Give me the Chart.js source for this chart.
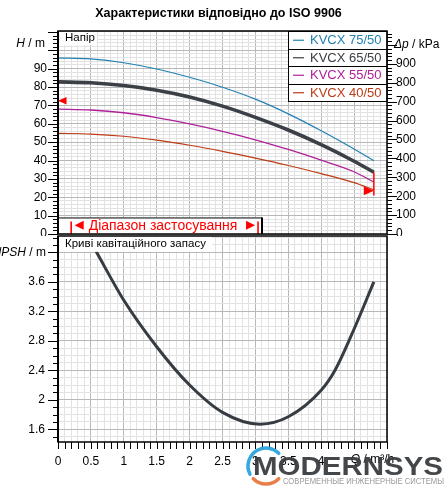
<!DOCTYPE html>
<html><head><meta charset="utf-8">
<script src="https://cdn.jsdelivr.net/npm/chart.js@4.4.1/dist/chart.umd.min.js"></script>
<style>
html,body{margin:0;padding:0;background:#fff;}
#wrap{position:relative;width:445px;height:487px;overflow:hidden;background:#fff;}
#c1{position:absolute;left:0;top:0;}
#c2{position:absolute;left:0;top:234px;}
</style></head><body>
<div id="wrap"><canvas id="c1" width="445" height="236"></canvas><canvas id="c2" width="445" height="253"></canvas></div>
<script>
// ---------- data ----------
const flowQ    = [0, 0.5, 1, 1.5, 2, 2.5, 3, 3.5, 4, 4.5, 4.8];
const head7550 = [95.9, 95.3, 93.2, 89.8, 85.3, 79.9, 73.4, 65.4, 56.2, 46.3, 39.9];
const head6550 = [82.8, 82.3, 80.8, 78.3, 74.6, 69.6, 63.5, 56.6, 48.6, 39.6, 33.6];
const head5550 = [68.0, 67.5, 66.0, 63.4, 59.9, 55.9, 51.3, 46.0, 40.2, 33.9, 28.3];
const head4050 = [54.8, 54.4, 53.2, 51.1, 48.3, 45.0, 41.3, 37.3, 32.9, 28.0, 24.1];
const npshQ = [0.58, 1.0, 1.5, 2.0, 2.5, 3.07, 3.5, 4.0, 4.21, 4.5, 4.8];
const npshM = [4.01, 3.35, 2.72, 2.20, 1.83, 1.67, 1.77, 2.13, 2.40, 2.96, 3.60];
const seriesNames = ['KVCX 75/50', 'KVCX 65/50', 'KVCX 55/50', 'KVCX 40/50'];
const qTickLabels = ['0', '0.5', '1', '1.5', '2', '2.5', '3', '3.5', '4'];
const headTickLabels = [0, 10, 20, 30, 40, 50, 60, 70, 80, 90];
const dpTickLabels = [0, 100, 200, 300, 400, 500, 600, 700, 800, 900];
const npshTickLabels = [1.6, 2, 2.4, 2.8, 3.2, 3.6];
const limitQ = [0, 4.8];
const limitTopH = [82.8, 33.6];
const limitBottomH = [71, 21];
const limitArrowH = [72.5, 23.5];
const appRangeQ = [0.2, 3.04];
const appRangeTopH = 9;
const appRangeEndQ = 3.1;

// ---------- style ----------
const FONT = "'Liberation Sans', Arial, sans-serif";
const colors = ['#2281b3', '#3a4045', '#b0209a', '#bd3b15'];
const widths = [1.2, 3.6, 1.3, 1.2];
const MAJ = '#b8b8b8', MIN = '#e2e2e2';
const HEAD_MAX = 110.5, KPA_PER_M = 9.72;
const NPSH_MIN = 1.428, NPSH_MAX = 4.221, Q_MAX = 5;

function isMult(v, step, base) { const r = (v - (base || 0)) / step; return Math.abs(r - Math.round(r)) < 1e-6; }
function range(a, b, s) { const out = []; for (let i = 0; a + i * s <= b + 1e-9; i++) out.push(+(a + i * s).toFixed(4)); return out; }
const qGrid = range(0, Q_MAX, 0.1);
const headGrid = range(0, 110, 2);
const dpGrid = range(0, 1060, 20);
const npshGrid = range(1.5, 4.2, 0.1);
const pts = (xs, ys) => xs.map((q, i) => ({ x: q, y: ys[i] }));
const setTicks = vals => s => { s.ticks = vals.map(v => ({ value: v })); };
const fixW = w => s => { s.width = w; s.paddingTop = 0; s.paddingBottom = 0; };
const fixH = h => s => { s.height = h; s.paddingLeft = 0; s.paddingRight = 0; };

function drawTicks(ctx, scale, side, majorFn, majLen, minLen) {
  ctx.save(); ctx.strokeStyle = '#000'; ctx.lineWidth = 1;
  scale.ticks.forEach(t => {
    const p = Math.round(scale.getPixelForValue(t.value)) + 0.5;
    const len = majorFn(t.value) ? majLen : minLen;
    ctx.beginPath();
    if (side === 'left') { ctx.moveTo(scale.right - len, p); ctx.lineTo(scale.right, p); }
    else if (side === 'right') { ctx.moveTo(scale.left, p); ctx.lineTo(scale.left + len, p); }
    else { ctx.moveTo(p, scale.top); ctx.lineTo(p, scale.top + len); }
    ctx.stroke();
  });
  ctx.restore();
}
function italicPlus(ctx, italicTxt, restTxt, x, y, align) {
  ctx.save(); ctx.textBaseline = 'middle'; ctx.fillStyle = '#000';
  ctx.font = '12px ' + FONT; const wr = ctx.measureText(restTxt).width;
  ctx.font = 'italic 12px ' + FONT; const wi = ctx.measureText(italicTxt).width;
  const x0 = align === 'right' ? x - wr - wi : x;
  ctx.textAlign = 'left';
  ctx.fillText(italicTxt, x0, y);
  ctx.font = '12px ' + FONT; ctx.fillText(restTxt, x0 + wi, y);
  ctx.restore();
}
function tri(ctx, tipX, tipY, dir, w, h) {
  ctx.beginPath(); ctx.moveTo(tipX, tipY);
  ctx.lineTo(tipX - dir * w, tipY - h / 2); ctx.lineTo(tipX - dir * w, tipY + h / 2); ctx.closePath(); ctx.fill();
}

// ---------- top chart ----------
const topDecor = {
  id: 'topDecor',
  afterDraw(chart) {
    const { ctx, chartArea: a, scales: { x, y, y2 } } = chart;
    ctx.save();
    ctx.fillStyle = '#000'; ctx.font = 'bold 12.5px ' + FONT; ctx.textAlign = 'center'; ctx.textBaseline = 'middle';
    ctx.fillText('Характеристики відповідно до ISO 9906', 218.5, 14);
    ctx.font = '11.5px ' + FONT; ctx.textAlign = 'left';
    const wN = ctx.measureText('Напір').width;
    ctx.fillStyle = '#fff'; ctx.fillRect(a.left + 2, a.top + 1, wN + 7, 13);
    ctx.fillStyle = '#000'; ctx.fillText('Напір', a.left + 7, a.top + 6.5);
    ctx.strokeStyle = '#ff0000'; ctx.fillStyle = '#ff0000'; ctx.lineWidth = 1.5;
    limitQ.forEach((q, i) => {
      const px = x.getPixelForValue(q);
      ctx.beginPath(); ctx.moveTo(px, y.getPixelForValue(limitTopH[i])); ctx.lineTo(px, y.getPixelForValue(limitBottomH[i])); ctx.stroke();
      const dir = i === 0 ? -1 : 1;
      tri(ctx, px, y.getPixelForValue(limitArrowH[i]), dir, i === 0 ? 8.5 : 10, i === 0 ? 7.5 : 9);
    });
    const lx0 = 288.5, lx1 = a.right, rowH = 17.5;
    ctx.fillStyle = '#fff'; ctx.fillRect(lx0, a.top, lx1 - lx0, rowH * 4);
    ctx.strokeStyle = '#000'; ctx.lineWidth = 1;
    ctx.strokeRect(lx0, a.top + 0.5, lx1 - lx0, rowH * 4);
    for (let i = 1; i < 4; i++) { ctx.beginPath(); ctx.moveTo(lx0, Math.round(a.top + i * rowH) + 0.5); ctx.lineTo(lx1, Math.round(a.top + i * rowH) + 0.5); ctx.stroke(); }
    ctx.font = '13px ' + FONT; ctx.textBaseline = 'middle'; ctx.textAlign = 'left';
    seriesNames.forEach((n, i) => {
      const cy = a.top + rowH * i + rowH / 2 + 0.5;
      ctx.strokeStyle = colors[i]; ctx.lineWidth = 1.2;
      ctx.beginPath(); ctx.moveTo(293, cy); ctx.lineTo(304, cy); ctx.stroke();
      ctx.fillStyle = colors[i]; ctx.fillText(n, 310, cy + 0.5);
    });
    const bx1 = x.getPixelForValue(appRangeEndQ), by0 = y.getPixelForValue(appRangeTopH);
    ctx.fillStyle = '#fff'; ctx.fillRect(a.left, by0, bx1 - a.left, a.bottom - by0);
    ctx.strokeStyle = '#000'; ctx.lineWidth = 1;
    ctx.beginPath(); ctx.moveTo(a.left, by0 + 0.5); ctx.lineTo(bx1, by0 + 0.5); ctx.stroke();
    ctx.lineWidth = 2; ctx.beginPath(); ctx.moveTo(bx1, by0); ctx.lineTo(bx1, a.bottom); ctx.stroke();
    ctx.strokeStyle = '#ff0000'; ctx.fillStyle = '#ff0000'; ctx.lineWidth = 1.6;
    const cyb = (by0 + a.bottom) / 2 + 0.5;
    appRangeQ.forEach(q => { const px = x.getPixelForValue(q); ctx.beginPath(); ctx.moveTo(px, by0 + 4); ctx.lineTo(px, a.bottom); ctx.stroke(); });
    const pL = x.getPixelForValue(appRangeQ[0]), pR = x.getPixelForValue(appRangeQ[1]);
    tri(ctx, pL + 3.5, cyb - 1, -1, 9, 9);
    tri(ctx, pR - 3, cyb - 1, 1, 9, 9);
    ctx.font = '14px ' + FONT; ctx.textAlign = 'left'; ctx.textBaseline = 'middle';
    ctx.fillText('Діапазон застосування', pL + 17.5, cyb);
    ctx.strokeStyle = '#000'; ctx.lineWidth = 1.5;
    ctx.strokeRect(a.left, a.top, a.right - a.left, a.bottom - a.top);
    ctx.lineWidth = 2; ctx.beginPath(); ctx.moveTo(a.left, a.top); ctx.lineTo(a.left, a.bottom); ctx.stroke();
    ctx.restore();
    drawTicks(ctx, y, 'left', v => isMult(v, 10), 10, 5);
    drawTicks(ctx, y2, 'right', v => isMult(v, 100), 10, 5);
    italicPlus(ctx, 'H', ' / m', 45, y.getPixelForValue(103.5), 'right');
    italicPlus(ctx, 'Δp', ' / kPa', 394, y2.getPixelForValue(1000), 'left');
  }
};

new Chart(document.getElementById('c1'), {
  type: 'line',
  data: {
    datasets: seriesNames.map((n, i) => ({
      label: n,
      data: pts(flowQ, [head7550, head6550, head5550, head4050][i]),
      borderColor: colors[i], borderWidth: widths[i], pointRadius: 0,
      cubicInterpolationMode: 'monotone', fill: false
    }))
  },
  options: {
    responsive: false, animation: false,
    layout: { padding: { top: 31, bottom: 2, left: 0, right: 0 } },
    plugins: { legend: { display: false }, tooltip: { enabled: false }, title: { display: false } },
    scales: {
      x: {
        type: 'linear', min: 0, max: Q_MAX,
        afterBuildTicks: setTicks(qGrid),
        ticks: { display: false },
        grid: { drawTicks: false, color: c => isMult(c.tick.value, 0.5) ? MAJ : MIN },
        border: { display: false },
        afterFit: fixH(0)
      },
      y: {
        position: 'left', min: 0, max: HEAD_MAX,
        afterBuildTicks: setTicks(headGrid),
        ticks: {
          autoSkip: false, padding: 11, color: '#000', font: { size: 12, family: FONT },
          callback: v => headTickLabels.includes(v) ? String(v) : ''
        },
        grid: { drawTicks: false, color: c => isMult(c.tick.value, 10) ? MAJ : MIN },
        border: { display: false },
        afterFit: fixW(58)
      },
      y2: {
        position: 'right', min: 0, max: HEAD_MAX * KPA_PER_M,
        afterBuildTicks: setTicks(dpGrid),
        ticks: {
          autoSkip: false, padding: 9, color: '#000', font: { size: 12, family: FONT },
          callback: v => dpTickLabels.includes(v) ? String(v) : ''
        },
        grid: { drawTicks: false, drawOnChartArea: false },
        border: { display: false },
        afterFit: fixW(58)
      }
    }
  },
  plugins: [topDecor]
});

// ---------- bottom chart ----------
const botDecor = {
  id: 'botDecor',
  afterDraw(chart) {
    const { ctx, chartArea: a, scales: { x, y } } = chart;
    ctx.save();
    ctx.font = '11.5px ' + FONT; ctx.textAlign = 'left'; ctx.textBaseline = 'middle';
    const lbl = 'Криві кавітаційного запасу';
    const w = ctx.measureText(lbl).width;
    const y40 = y.getPixelForValue(4.0);
    ctx.fillStyle = '#fff'; ctx.fillRect(a.left + 1, a.top + 1, w + 12, y40 - a.top - 1.5);
    ctx.fillStyle = '#000'; ctx.fillText(lbl, a.left + 7, a.top + 8);
    ctx.strokeStyle = '#000'; ctx.lineWidth = 1.5;
    ctx.strokeRect(a.left, a.top, a.right - a.left, a.bottom - a.top);
    ctx.lineWidth = 2; ctx.beginPath(); ctx.moveTo(a.left, a.top); ctx.lineTo(a.left, a.bottom); ctx.stroke();
    ctx.restore();
    drawTicks(ctx, y, 'left', v => isMult(v, 0.4, 1.6), 10, 5);
    drawTicks(ctx, x, 'bottom', v => true, 7, 7);
    italicPlus(ctx, 'NPSH', ' / m', 46, y40, 'right');
    ctx.save(); ctx.textBaseline = 'middle';
    ctx.font = 'italic 12px ' + FONT; ctx.fillStyle = '#000';
    const xq = x.getPixelForValue(4.45);
    ctx.fillText('Q', xq, 226);
    const wq = ctx.measureText('Q').width;
    ctx.font = '12px ' + FONT; ctx.fillText(' / m³/h', xq + wq, 226);
    ctx.restore();
    // watermark logo
    ctx.save();
    const oy = -234;
    ctx.globalAlpha = 0.95;
    ctx.lineWidth = 3.5; ctx.lineCap = 'round';
    ctx.strokeStyle = '#2aa3dc';
    ctx.beginPath(); ctx.arc(266, 466 + oy, 18, Math.PI * 0.85, Math.PI * 1.75); ctx.stroke();
    ctx.strokeStyle = '#e8773e';
    ctx.beginPath(); ctx.arc(266, 466 + oy, 18, Math.PI * 0.25, Math.PI * 0.75); ctx.stroke();
    ctx.fillStyle = '#3a3d40'; ctx.font = 'bold 26px ' + FONT; ctx.textBaseline = 'alphabetic'; ctx.textAlign = 'left';
    const t = 'MODERNSYS'; const tw = ctx.measureText(t).width;
    ctx.translate(253, 475 + oy); ctx.scale(190 / tw, 1); ctx.fillText(t, 0, 0);
    ctx.restore();
    ctx.save();
    ctx.fillStyle = '#9a9a9a'; ctx.font = '9px ' + FONT; ctx.textBaseline = 'middle';
    const s = 'СОВРЕМЕННЫЕ ИНЖЕНЕРНЫЕ СИСТЕМЫ'; const sw = ctx.measureText(s).width;
    ctx.translate(283, 482 + oy); ctx.scale(161 / sw, 1); ctx.fillText(s, 0, 0);
    ctx.restore();
  }
};

new Chart(document.getElementById('c2'), {
  type: 'line',
  data: {
    datasets: [{
      label: 'NPSH',
      data: pts(npshQ, npshM),
      borderColor: '#363c42', borderWidth: 3, pointRadius: 0,
      cubicInterpolationMode: 'monotone', fill: false
    }]
  },
  options: {
    responsive: false, animation: false,
    layout: { padding: { top: 2, bottom: 0, left: 0, right: 58 } },
    plugins: { legend: { display: false }, tooltip: { enabled: false } },
    scales: {
      x: {
        type: 'linear', min: 0, max: Q_MAX,
        afterBuildTicks: setTicks(qGrid),
        ticks: {
          autoSkip: false, maxRotation: 0, padding: 12, color: '#000', font: { size: 12, family: FONT },
          callback: v => { const s = String(Math.round(v * 10) / 10); return qTickLabels.includes(s) && isMult(v, 0.5) ? s : ''; }
        },
        grid: { drawTicks: false, color: c => isMult(c.tick.value, 0.5) ? MAJ : MIN },
        border: { display: false },
        afterFit: fixH(45)
      },
      y: {
        position: 'left', min: NPSH_MIN, max: NPSH_MAX,
        afterBuildTicks: setTicks(npshGrid),
        ticks: {
          autoSkip: false, padding: 13, color: '#000', font: { size: 12, family: FONT },
          callback: v => { const r = Math.round(v * 10) / 10; return npshTickLabels.includes(r) ? String(r) : ''; }
        },
        grid: { drawTicks: false, color: c => isMult(c.tick.value, 0.4, 1.6) ? MAJ : MIN },
        border: { display: false },
        afterFit: fixW(58)
      }
    }
  },
  plugins: [botDecor]
});
</script>
</body></html>
